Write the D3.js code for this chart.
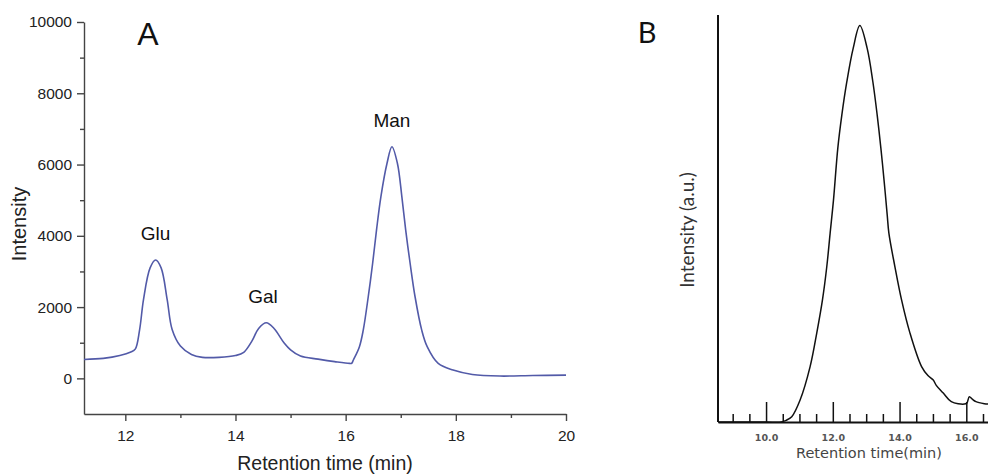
<!DOCTYPE html>
<html>
<head>
<meta charset="utf-8">
<script src="https://cdn.jsdelivr.net/npm/d3@7"></script>
<style>
    body { margin: 0; background: #fff; }
    svg { display: block; }
</style>
</head>
<body>
<script>
// Panel A - monosaccharide composition (retention time vs intensity)
const timeA = [11.25, 11.6, 11.9, 12.1, 12.18, 12.26, 12.33, 12.45, 12.55, 12.65, 12.76, 12.85, 13.0, 13.2, 13.4, 13.7,
    14.0, 14.15, 14.3, 14.42, 14.56, 14.7, 14.88, 15.0, 15.18, 15.5, 15.8, 16.07, 16.11, 16.14, 16.25, 16.32, 16.41, 16.49,
    16.56, 16.64, 16.75, 16.84, 16.94, 17.02, 17.09, 17.17, 17.26, 17.38, 17.48, 17.68, 17.95, 18.3, 18.8, 19.4, 20.0];
const intensityA = [530, 560, 640, 740, 820, 1370, 2210, 3100, 3320, 3100, 2210, 1370, 905, 670, 590, 590,
    640, 730, 1050, 1400, 1560, 1400, 1000, 800, 625, 540, 470, 420, 425, 515, 890, 1360, 2290, 3230,
    4160, 5100, 6030, 6500, 6030, 5100, 4160, 3230, 2290, 1360, 890, 420, 235, 110, 65, 80, 90];
const peakNames = ["Glu", "Gal", "Man"];
const peakTimes = [12.55, 14.5, 16.84];
const peakHeights = [3320, 1560, 6500];
const yTicksA = [0, 2000, 4000, 6000, 8000, 10000];
const yMinorA = [1000, 3000, 5000, 7000, 9000];
const xTicksA = [12, 14, 16, 18, 20];
const xMinorA = [13, 15, 17, 19];

// Panel B - molecular weight distribution (arbitrary units)
const timeB = [8.56, 10.0, 10.45, 10.6, 10.77, 11.02, 11.32, 11.52, 11.69, 11.82, 11.92, 12.02, 12.15, 12.27, 12.42, 12.61,
    12.81, 13.03, 13.2, 13.33, 13.44, 13.54, 13.63, 13.68, 13.86, 14.06, 14.31, 14.66, 14.85, 15.01, 15.1, 15.31, 15.55,
    15.94, 16.02, 16.09, 16.18, 16.29, 16.54, 16.65];
const intensityB = [0, 0, 0, 0.4, 1.3, 5.4, 13.6, 21.9, 30.0, 38.2, 46.4, 54.5, 67.3, 75.4, 83.6, 91.8,
    97.4, 91.8, 83.6, 75.4, 67.3, 59.0, 50.9, 46.4, 38.2, 30.0, 21.9, 13.6, 11.4, 10.3, 9.0, 7.1, 5.0,
    4.4, 4.7, 6.2, 5.6, 5.0, 4.5, 4.4];
const xTicksB = [10, 12, 14, 16];
const xMinorB = [9, 9.5, 10.5, 11, 11.5, 12.5, 13, 13.5, 14.5, 15, 15.5, 16.5];

const config = {
    width: 988,
    height: 474,
    lineA: "#525aa8",
    inkA: "#444",
    fontA: "'Liberation Sans', Arial, sans-serif",
    fontB: "Lato, 'Open Sans', sans-serif",
    fontBTicks: "'DejaVu Sans', Verdana, sans-serif"
};

const svg = d3.select("body").append("svg")
    .attr("width", config.width)
    .attr("height", config.height);

drawPanelA();
drawPanelB();

function drawPanelA() {
    const x = d3.scaleLinear().domain([11.25, 20]).range([84, 566]);
    const y = d3.scaleLinear().domain([-1000, 10000]).range([414, 22]);
    const g = svg.append("g");

    // minor ticks first so major axis sits on top
    g.append("g")
        .attr("transform", `translate(0,${y(-1000)})`)
        .call(d3.axisBottom(x).tickValues(xMinorA).tickSize(4).tickFormat(""))
        .call(a => a.select(".domain").remove());
    g.append("g")
        .attr("transform", `translate(${x(11.25)},0)`)
        .call(d3.axisLeft(y).tickValues(yMinorA).tickSize(4).tickFormat(""))
        .call(a => a.select(".domain").remove());

    const xAxis = g.append("g")
        .attr("transform", `translate(0,${y(-1000)})`)
        .call(d3.axisBottom(x).tickValues(xTicksA).tickSize(7).tickSizeOuter(0).tickPadding(9));
    const yAxis = g.append("g")
        .attr("transform", `translate(${x(11.25)},0)`)
        .call(d3.axisLeft(y).tickValues(yTicksA).tickSize(7).tickSizeOuter(0).tickPadding(5)
            .tickFormat(d3.format("d")));

    g.selectAll(".tick line, .domain")
        .style("stroke", config.inkA)
        .style("stroke-width", 1.4);
    [xAxis, yAxis].forEach(a => a.selectAll("text")
        .style("font-family", config.fontA)
        .style("font-size", "15.5px")
        .style("fill", "#222"));

    const line = d3.line()
        .x((d, i) => x(timeA[i]))
        .y(d => y(d))
        .curve(d3.curveCatmullRom.alpha(0.5));

    g.append("path")
        .datum(intensityA)
        .attr("d", line)
        .style("fill", "none")
        .style("stroke", config.lineA)
        .style("stroke-width", 1.6);

    g.selectAll(".peak")
        .data(peakNames)
        .enter()
        .append("text")
        .attr("class", "peak")
        .attr("x", (d, i) => x(peakTimes[i]))
        .attr("y", (d, i) => y(peakHeights[i]) - 20)
        .attr("text-anchor", "middle")
        .style("font-family", config.fontA)
        .style("font-size", "19px")
        .style("fill", "#111")
        .text(d => d);

    g.append("text")
        .attr("x", 148)
        .attr("y", 45)
        .attr("text-anchor", "middle")
        .style("font-family", config.fontA)
        .style("font-size", "32px")
        .style("fill", "#111")
        .text("A");

    g.append("text")
        .attr("x", 325)
        .attr("y", 470)
        .attr("text-anchor", "middle")
        .style("font-family", config.fontA)
        .style("font-size", "19.5px")
        .style("fill", "#222")
        .text("Retention time (min)");

    g.append("text")
        .attr("transform", "translate(26,224) rotate(-90)")
        .attr("text-anchor", "middle")
        .style("font-family", config.fontA)
        .style("font-size", "20px")
        .style("fill", "#222")
        .text("Intensity");
}

function drawPanelB() {
    const x = d3.scaleLinear().domain([8.56, 16.65]).range([718, 988]);
    const y = d3.scaleLinear().domain([0, 100]).range([422, 15]);
    const g = svg.append("g");

    g.append("g")
        .attr("transform", `translate(0,${y(0)})`)
        .call(d3.axisBottom(x).tickValues(xMinorB).tickSize(-8).tickFormat(""))
        .call(a => a.select(".domain").remove());

    const xAxis = g.append("g")
        .attr("transform", `translate(0,${y(0)})`)
        .call(d3.axisBottom(x).tickValues(xTicksB).tickSize(-20).tickSizeOuter(0).tickPadding(12)
            .tickFormat(d3.format(".1f")));

    g.selectAll(".tick line")
        .style("stroke", "#111")
        .style("stroke-width", 1.5);
    xAxis.select(".domain")
        .style("stroke", "#111")
        .style("stroke-width", 2);
    xAxis.selectAll("text")
        .style("font-family", config.fontBTicks)
        .style("font-weight", "bold")
        .style("font-size", "9.5px")
        .style("fill", "#555");

    g.append("line")
        .attr("x1", x(8.56))
        .attr("x2", x(8.56))
        .attr("y1", y(100))
        .attr("y2", y(0))
        .style("stroke", "#111")
        .style("stroke-width", 2);

    const line = d3.line()
        .x((d, i) => x(timeB[i]))
        .y(d => y(d))
        .curve(d3.curveCatmullRom.alpha(0.5));

    g.append("path")
        .datum(intensityB)
        .attr("d", line)
        .style("fill", "none")
        .style("stroke", "#111")
        .style("stroke-width", 1.5);

    g.append("text")
        .attr("x", 647)
        .attr("y", 43)
        .attr("text-anchor", "middle")
        .style("font-family", config.fontB)
        .style("font-size", "29px")
        .style("fill", "#111")
        .text("B");

    g.append("text")
        .attr("x", 869)
        .attr("y", 458)
        .attr("text-anchor", "middle")
        .style("font-family", config.fontBTicks)
        .style("font-size", "14.5px")
        .style("fill", "#444")
        .text("Retention time(min)");

    g.append("text")
        .attr("transform", "translate(694,230) rotate(-90)")
        .attr("text-anchor", "middle")
        .style("font-family", config.fontB)
        .style("font-size", "19px")
        .style("fill", "#333")
        .text("Intensity (a.u.)");
}
</script>
</body>
</html>
